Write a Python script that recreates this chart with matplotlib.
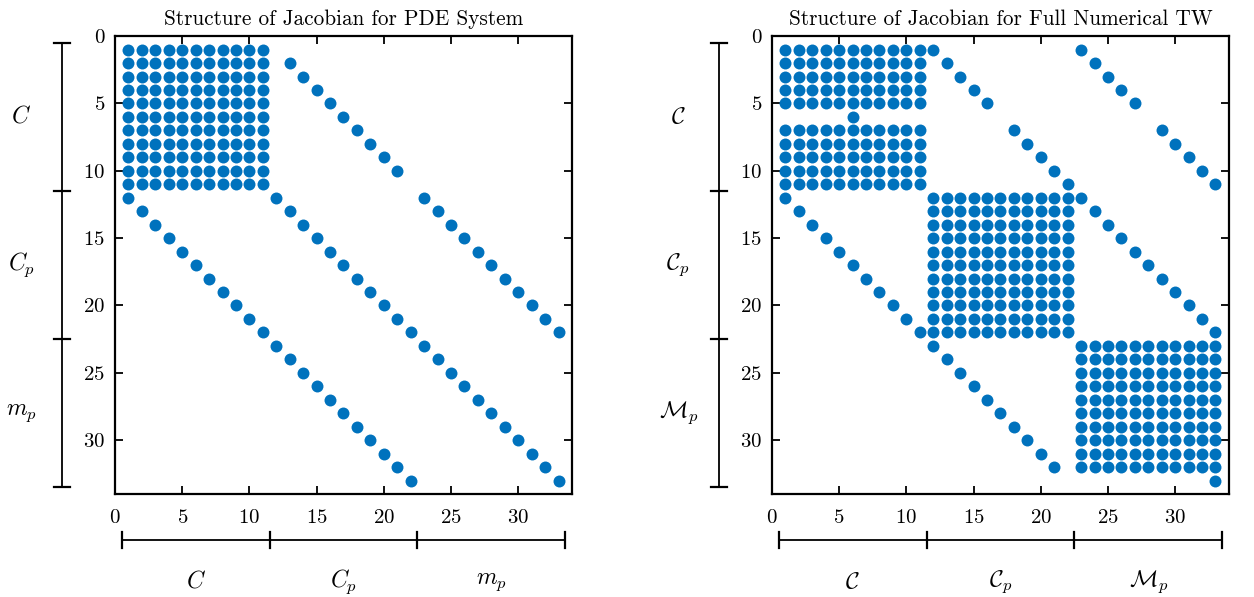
import numpy as np
import matplotlib
matplotlib.use("Agg")
import matplotlib.pyplot as plt
from matplotlib import transforms

plt.rcParams['font.family'] = 'serif'
plt.rcParams['font.serif'] = ['cmr10']
plt.rcParams['mathtext.fontset'] = 'cm'
plt.rcParams['axes.formatter.use_mathtext'] = True

N = 33
# blocks: (first row, last row, first col, last col), 1-indexed
pde_blocks = [(1, 11, 1, 11)]
# diagonals: (start row, start col, length)
pde_diags = [(2, 13, 9), (12, 1, 22), (12, 12, 22), (12, 23, 11)]

tw_blocks = [(1, 5, 1, 11), (7, 11, 1, 11), (12, 22, 12, 22), (23, 32, 23, 33)]
tw_diags = [(1, 12, 5), (7, 18, 5), (1, 23, 5), (7, 29, 5), (6, 6, 1),
            (12, 1, 11), (12, 23, 11), (23, 12, 10), (33, 33, 1)]

ticks = [0, 5, 10, 15, 20, 25, 30]
edges = [0.5, 11.5, 22.5, 33.5]
pde_names = [r'$C$', r'$C_p$', r'$m_p$']
tw_names = [r'$\mathcal{C}$', r'$\mathcal{C}_p$', r'$\mathcal{M}_p$']
titles = ['Structure of Jacobian for PDE System',
          'Structure of Jacobian for Full Numerical TW']

blue = '#0072BD'


def pattern(blocks, diags):
    m = np.zeros((N, N), dtype=bool)
    for r0, r1, c0, c1 in blocks:
        m[r0 - 1:r1, c0 - 1:c1] = True
    for r, c, n in diags:
        for k in range(n):
            m[r - 1 + k, c - 1 + k] = True
    return m


def brackets(ax, names):
    # vertical bracket on the left
    tr = transforms.blended_transform_factory(ax.transAxes, ax.transData)
    xb = -0.116
    ax.plot([xb, xb], [edges[0], edges[-1]], color='k', lw=1.3, transform=tr, clip_on=False)
    for e in edges:
        ax.plot([xb - 0.018, xb + 0.018], [e, e], color='k', lw=1.6, transform=tr, clip_on=False)
    for i, nm in enumerate(names):
        ax.text(-0.205, (edges[i] + edges[i + 1]) / 2, nm, transform=tr,
                ha='center', va='center', fontsize=17)
    # horizontal bracket on the bottom
    tr2 = transforms.blended_transform_factory(ax.transData, ax.transAxes)
    yb = -0.10
    ax.plot([edges[0], edges[-1]], [yb, yb], color='k', lw=1.3, transform=tr2, clip_on=False)
    for e in edges:
        ax.plot([e, e], [yb - 0.018, yb + 0.018], color='k', lw=1.6, transform=tr2, clip_on=False)
    for i, nm in enumerate(names):
        ax.text((edges[i] + edges[i + 1]) / 2, -0.192, nm, transform=tr2,
                ha='center', va='center', fontsize=17)


fig = plt.figure(figsize=(12.54, 5.97), dpi=100)
ax1 = fig.add_axes([0.0917, 0.1725, 0.3644, 0.767])
ax2 = fig.add_axes([0.6156, 0.1725, 0.3644, 0.767])

for ax, blocks, diags, names, title in [(ax1, pde_blocks, pde_diags, pde_names, titles[0]),
                                         (ax2, tw_blocks, tw_diags, tw_names, titles[1])]:
    m = pattern(blocks, diags)
    rows, cols = np.nonzero(m)
    ax.plot(cols + 1, rows + 1, 'o', color=blue, markersize=8.6, markeredgewidth=0, clip_on=False)
    ax.set_xlim(0, 34)
    ax.set_ylim(34, 0)
    ax.set_xticks(ticks)
    ax.set_yticks(ticks)
    ax.tick_params(direction='in', top=True, right=True, length=6, width=1.3,
                   labelsize=15)
    ax.tick_params(axis='x', pad=11)
    ax.tick_params(axis='y', pad=7)
    for s in ax.spines.values():
        s.set_linewidth(1.6)
    ax.set_title(title, fontsize=15.3, pad=8)
    brackets(ax, names)

fig.savefig('out.png', dpi=100)
